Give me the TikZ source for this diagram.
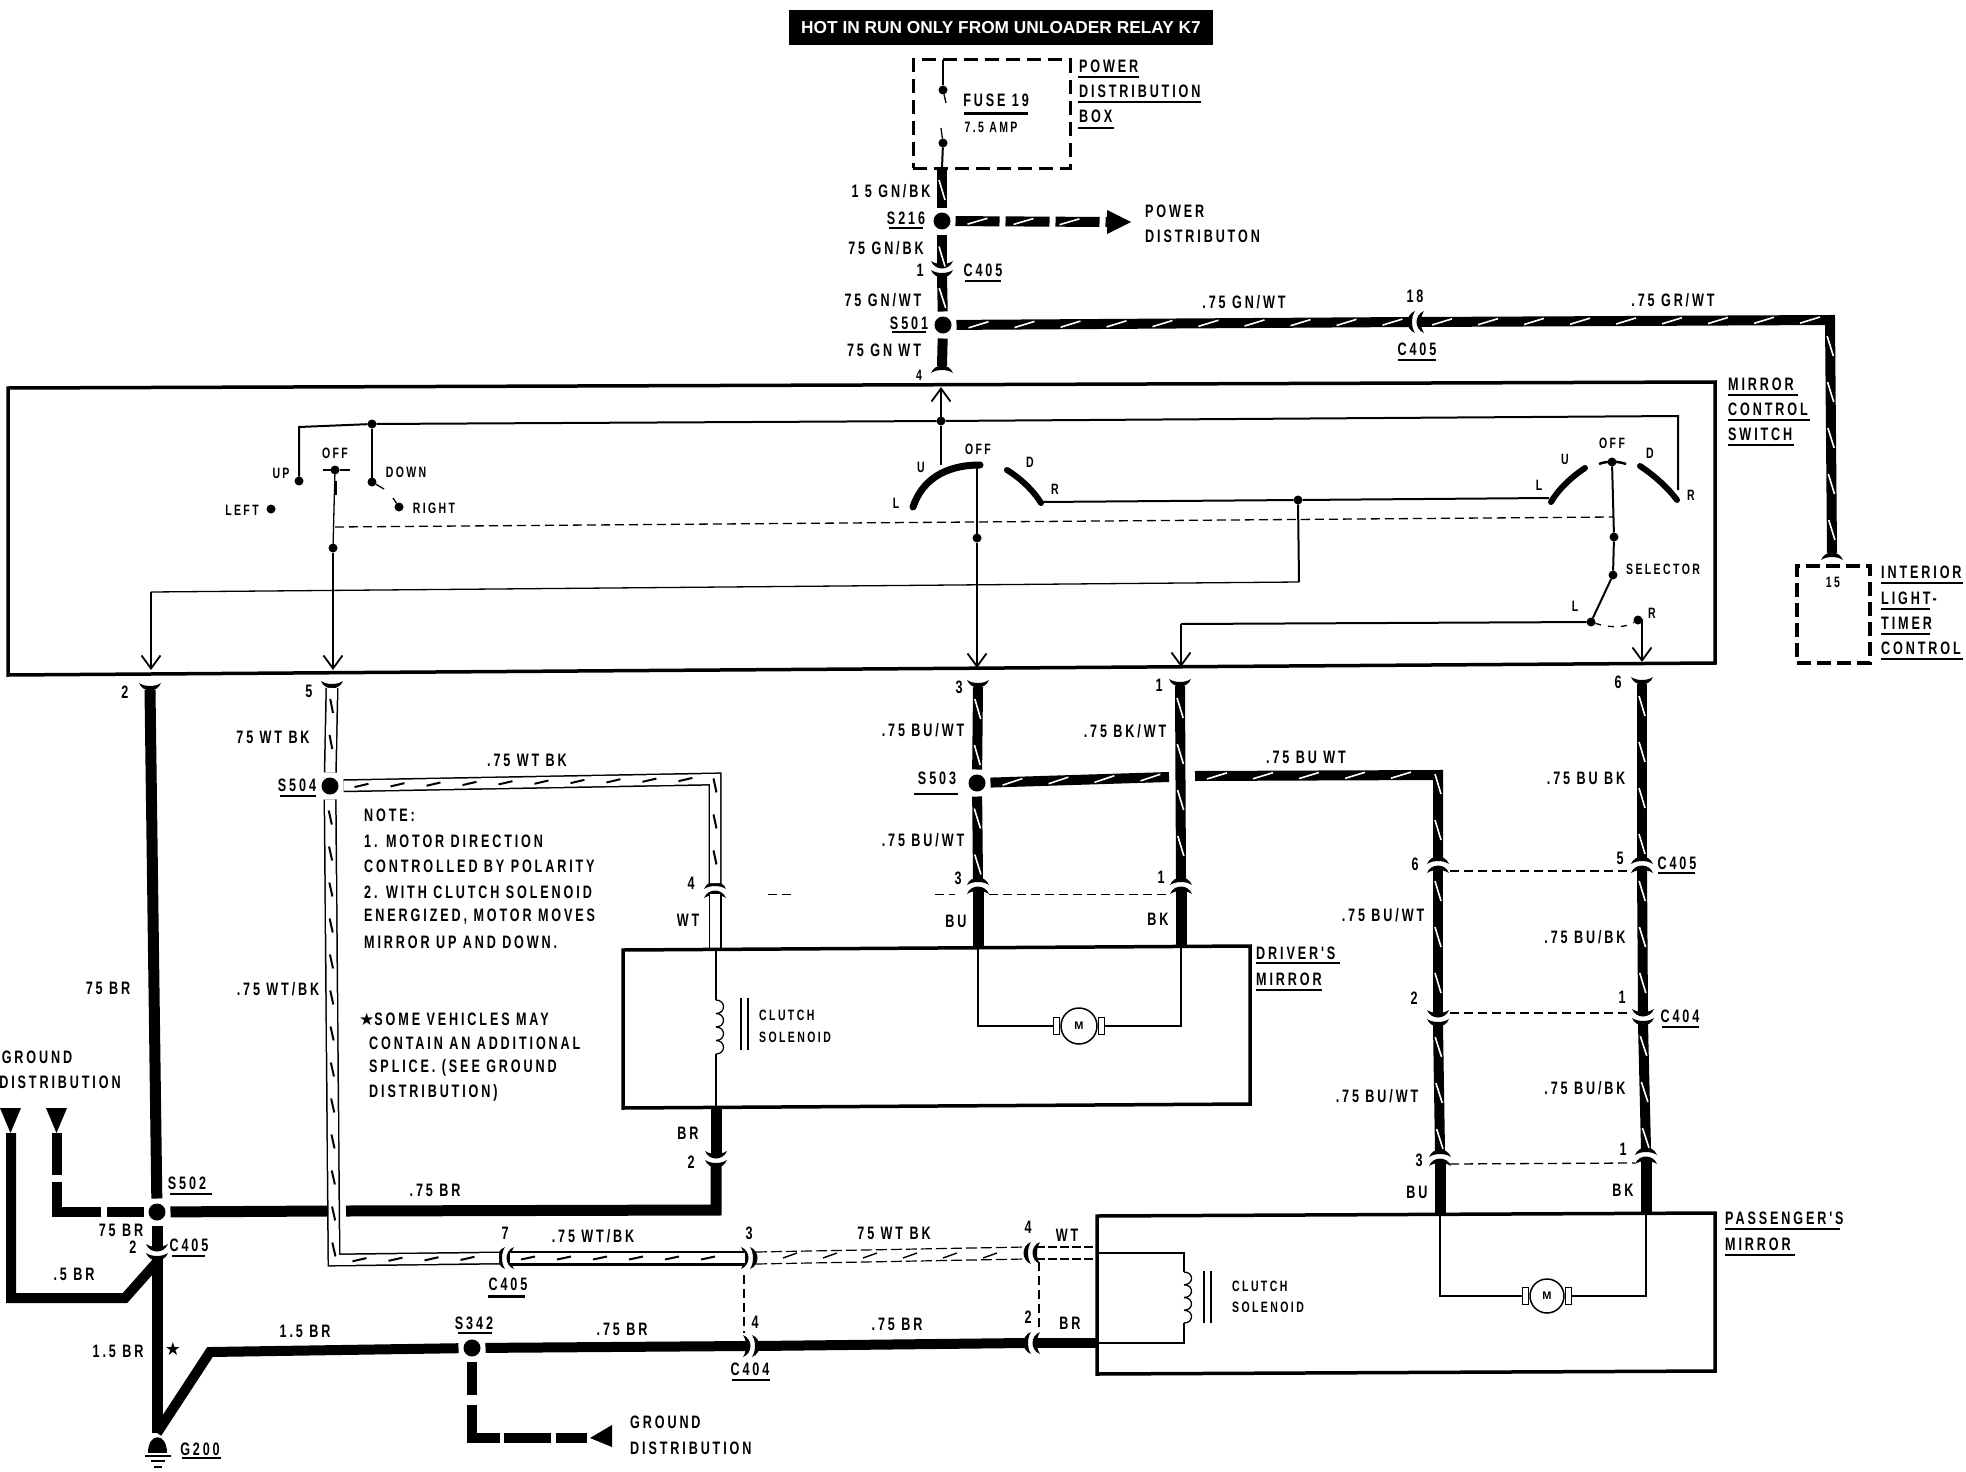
\documentclass[tikz,border=0pt]{standalone}
\usepackage{fontspec}
\usetikzlibrary{decorations.markings,arrows.meta}
\newfontfamily\labfont[FakeStretch=0.7,LetterSpace=16]{Liberation Sans Bold}
\newfontfamily\titlefont{Liberation Sans Bold}
\newfontfamily\symfont{DejaVu Sans}
\newcount\lc
\tikzset{
  txt/.style={inner sep=0pt,font=\fontsize{18}{20}\selectfont\labfont},
  stxt/.style={inner sep=0pt,font=\fontsize{15}{17}\selectfont\labfont},
  wire/.style={line width=10pt,line join=miter},
  hairline/.style={line width=1.3pt},
  midline/.style={line width=2pt},
  boxline/.style={line width=3.5pt,line join=miter},
  uline/.style={line width=2pt},
  dashline/.style={line width=1.3pt,dash pattern=on 9pt off 5pt},
  slashes/.style={postaction={decorate,decoration={markings,
     mark=between positions 22pt and -8pt step 46pt with {\draw[#1,line width=1.6pt,solid] (-10,3) -- (10,-3);}}}},
  bslashes/.style={postaction={decorate,decoration={markings,
     mark=between positions 18pt and -8pt step 36pt with {\draw[black,line width=2pt,solid] (-7,1.5) -- (7,-1.5);}}}},
  stripewire/.style={wire,slashes=white},
  whitewire/.style={line width=#1,line join=miter,postaction={draw,white,line width=10pt},bslashes},
  whitewire/.default=13pt,
  plainwhite/.style={line width=13pt,postaction={draw,white,line width=10pt}},
  splice/.style={circle,fill=black,minimum size=17pt,inner sep=0pt,outer sep=5pt},
  pin/.style={circle,fill=black,minimum size=9pt,inner sep=0pt,outer sep=0pt},
  sw/.style={hairline,-{Straight Barb[length=13pt,width=19pt,line width=1.8pt]}},
}
\newcommand\lb[3]{\global\advance\lc by 1 \node[txt,name=t\the\lc] at (#1,#2) {#3};}
\newcommand\lbs[3]{\global\advance\lc by 1 \node[stxt,name=t\the\lc] at (#1,#2) {#3};}
\newcommand\lbl[3]{\global\advance\lc by 1 \node[txt,anchor=west,name=t\the\lc] at (#1,#2) {#3};}
\newcommand\lbsl[3]{\global\advance\lc by 1 \node[stxt,anchor=west,name=t\the\lc] at (#1,#2) {#3};}
\newcommand\ulin[3]{\draw[uline] (#1,#3) -- (#2,#3);}
\newcommand\cres{(-11,-7) .. controls (-7,3) and (7,3) .. (11,-7) .. controls (5,-3) and (-5,-3) .. cycle}
% full connector: name, x, y, rotation
\newcommand\conn[4]{\begin{scope}[shift={(#2,#3)},rotate=#4]
  \fill[yshift=4pt] \cres; \fill[yshift=-5pt] \cres;
  \coordinate (#1-a) at (0,-7); \coordinate (#1-b) at (0,4);
\end{scope}}
% half connector
\newcommand\hconn[4]{\begin{scope}[shift={(#2,#3)},rotate=#4]
  \fill \cres; \coordinate (#1) at (0,0);
\end{scope}}
\newcommand\motor[4]{% name, x, y, r
  \node[circle,draw,line width=1.5pt,minimum size=#4,inner sep=0pt,font=\fontsize{11}{12}\selectfont\titlefont,fill=white] (#1) at (#2,#3) {M};
  \node[draw,line width=1.5pt,minimum width=6pt,minimum height=17pt,inner sep=0pt,anchor=east] (#1l) at (#1.west) {};
  \node[draw,line width=1.5pt,minimum width=6pt,minimum height=17pt,inner sep=0pt,anchor=west] (#1r) at (#1.east) {};
}
\newcommand\coil[3]{\begin{scope}[shift={(#1,#2)}]
  \foreach \a/\b in {0/1,1/2,2/3,3/4}{\draw[hairline] (0,#3*\a) .. controls (10,#3*\a) and (10,#3*\b) .. (0,#3*\b);}
\end{scope}}
\begin{document}
\begin{tikzpicture}[x=1pt,y=-1pt]
\useasboundingbox (0,0) rectangle (1966,1472);
\fill[white] (0,0) rectangle (1966,1472);
% title
\node[fill=black,text=white,minimum width=424pt,minimum height=35pt,inner sep=0pt,font=\fontsize{17.3}{19}\selectfont\titlefont] (title) at (1001,27.5) {HOT IN RUN ONLY FROM UNLOADER RELAY K7};
% fuse box
\node[draw,line width=3pt,dash pattern=on 14pt off 7pt,minimum width=157pt,minimum height=108pt,inner sep=0pt] (pdb) at (991.5,114) {};
\coordinate (fusetop) at (943,60); \coordinate (fusebot) at (942,168);
\node[pin] (f1) at (943,90) {}; \node[pin] (f2) at (943,143) {};
\draw[hairline] (fusetop) -- (f1); \draw[hairline] (f1) -- (946,103);
\draw[midline] (fusebot) -- (f2); \draw[hairline] (f2) -- (941,128);
\lb{996}{100}{FUSE 19}\draw[line width=3pt] (964,113) -- (1028,113);
\lbs{991}{127}{7.5 AMP}
\lbl{1079}{66}{POWER}\ulin{1078}{1139}{77}
\lbl{1079}{91}{DISTRIBUTION}\ulin{1078}{1201}{102}
\lbl{1079}{116}{BOX}\ulin{1078}{1114}{128}
% main feed
\node[splice] (S216) at (942,221) {};
\node[splice] (S501) at (943,325) {};
\conn{c1}{942}{272}{0}
\hconn{h4}{942}{366}{180}
\coordinate (pdist) at (1107,222); \coordinate (pdtip) at (1131,222);
\coordinate (pdu) at (1107,210); \coordinate (pdd) at (1107,234);
\draw[stripewire] (fusebot) -- (S216);
\draw[stripewire] (S216) -- (c1-a);
\draw[stripewire] (c1-b) -- (S501);
\draw[stripewire] (S501) -- (h4);
\draw[wire,dash pattern=on 44pt off 6pt,slashes=white] (S216) -- (pdist);
\fill (pdu) -- (pdtip) -- (pdd) -- cycle;
\lb{891}{191}{1 5 GN/BK}
\lb{906}{218}{S216}\ulin{889}{923}{228}
\lb{886}{248}{75 GN/BK}
\lb{920}{270}{1}
\lb{983}{270}{C405}\ulin{965}{1001}{281}
\lb{883}{300}{75 GN/WT}
\lb{909}{323}{S501}\ulin{892}{926}{332}
\lb{884}{350}{75 GN WT}
\lbs{919}{375}{4}
\lbl{1145}{211}{POWER}
\lbl{1145}{236}{DISTRIBUTON}
% S501 to interior light
\conn{c18}{1413}{322}{-90}
\node[draw,line width=3.5pt,dash pattern=on 14pt off 6pt,minimum width=73pt,minimum height=97pt,inner sep=0pt] (ilt) at (1833.5,614.5) {};
\hconn{hilt}{1832}{553}{180}
\coordinate (ilcorner) at (1830,320);
\draw[stripewire] (S501) -- (c18-b);
\draw[stripewire] (c18-a) -- (ilcorner) -- (hilt);
\lb{1244}{302}{.75 GN/WT}
\lb{1415}{296}{18}
\lb{1417}{349}{C405}\ulin{1398}{1436}{360}
\lb{1673}{300}{.75 GR/WT}
\lbs{1833}{582}{15}
\lbl{1881}{572}{INTERIOR}\ulin{1881}{1963}{583}
\lbl{1881}{598}{LIGHT-}\ulin{1881}{1930}{609}
\lbl{1881}{623}{TIMER}\ulin{1881}{1930}{634}
\lbl{1881}{648}{CONTROL}\ulin{1881}{1963}{659}
% switch box
\draw[boxline] (8,388) -- (8,675) -- (1715,663) -- (1715,382) -- cycle;
\lbl{1728}{384}{MIRROR}\ulin{1728}{1798}{395}
\lbl{1728}{409}{CONTROL}\ulin{1728}{1810}{420}
\lbl{1728}{434}{SWITCH}\ulin{1728}{1794}{445}
% left switch
\node[pin] (p1) at (372,424) {};
\node[pin] (pup) at (299,481) {};
\node[pin] (pdn) at (372,482) {};
\node[pin] (poff) at (335,470) {};
\node[pin] (pleft) at (271,509) {};
\node[pin] (pright) at (399,507) {};
\node[pin] (pc1) at (333,548) {};
\coordinate (busr) at (1678,416); \coordinate (busc) at (299,427); \coordinate (busend) at (1678,490);
\node[pin] (p2) at (941,421) {};
\draw[midline] (pup) -- (busc) -- (p1) -- (p2) -- (busr) -- (busend);
\draw[midline] (p1) -- (pdn); \draw[hairline] (pdn) -- (384,489); \draw[hairline] (393,498) -- (pright);
\draw[hairline] (323,470) -- (poff) -- (350,470);
\draw[hairline] (poff) -- (pc1);
\coordinate (arr5) at (333,670);
\draw[sw,line width=2pt] (pc1) -- (arr5);
\draw[line width=3pt] (335,481) -- (335,495);
\lbs{335}{453}{OFF}\lbs{281}{473}{UP}\lbs{406}{472}{DOWN}
\lbs{242}{510}{LEFT}\lbs{434}{508}{RIGHT}
% switch 2
\coordinate (r1s) at (941,465); \coordinate (r1c) at (977,466);
\draw[line width=7pt,line cap=round] (913,507) .. controls (922,480) and (945,465) .. (980,465);
\draw[line width=6pt,line cap=round] (1007,470) .. controls (1020,478) and (1033,490) .. (1041,503);
\draw[midline] (p2) -- (r1s);
\node[pin] (p3) at (977,538) {};
\draw[midline] (r1c) -- (p3);
\coordinate (arr3) at (977,668);
\draw[sw] (p3) -- (arr3);
\coordinate (arr4) at (941,387);
\draw[sw] (p2) -- (arr4);
\lbs{978}{449}{OFF}\lbs{921}{467}{U}\lbs{1030}{462}{D}\lbs{896}{503}{L}\lbs{1055}{489}{R}
% bridging wires
\node[pin] (p4) at (1298,500) {};
\coordinate (r1e) at (1041,502); \coordinate (r2s) at (1549,498);
\draw[midline] (r1e) -- (p4) -- (r2s);
\coordinate (bot1) at (1299,582); \coordinate (left2) at (151,592); \coordinate (arr2) at (151,670);
\draw[midline] (p4) -- (bot1);
\draw[hairline] (bot1) -- (left2);
\draw[sw] (left2) -- (arr2);
\coordinate (dashL) at (335,527); \coordinate (dashR) at (1613,517);
\draw[dashline] (dashL) -- (dashR);
% switch 3
\draw[line width=6pt,line cap=round] (1551,502) .. controls (1558,490) and (1570,478) .. (1585,468);
\draw[line width=2.5pt] (1599,464) .. controls (1606,461) and (1618,461) .. (1626,464);
\draw[line width=6pt,line cap=round] (1640,466) .. controls (1655,476) and (1668,488) .. (1677,500);
\node[pin] (s0) at (1612,462) {};
\node[pin] (s1) at (1614,537) {};
\node[pin] (s2) at (1613,575) {};
\node[pin] (s3) at (1591,622) {};
\node[pin] (s4) at (1638,620) {};
\draw[midline] (s0) -- (s1) -- (s2);
\draw[midline] (s2) -- (s3);
\draw[dashline,dash pattern=on 6pt off 7pt] (s3) .. controls (1610,628) and (1625,628) .. (s4);
\coordinate (arr6) at (1642,662); \coordinate (c1181) at (1181,624); \coordinate (arr1) at (1181,667);
\draw[sw] (s4) -| (arr6);
\draw[midline] (s3) -- (c1181);
\draw[sw] (c1181) -- (arr1);
\lbs{1612}{443}{OFF}\lbs{1565}{459}{U}\lbs{1650}{453}{D}\lbs{1539}{485}{L}\lbs{1691}{495}{R}
\lbs{1663}{569}{SELECTOR}\lbs{1575}{606}{L}\lbs{1652}{613}{R}
% wires below switch
\hconn{h2}{150}{690}{0}
\hconn{h5}{332}{688}{0}
\hconn{h3}{978}{687}{0}
\hconn{h1}{1180}{686}{0}
\hconn{h6}{1642}{684}{0}
\lb{125}{692}{2}\lb{309}{691}{5}\lb{959}{687}{3}\lb{1159}{685}{1}\lb{1618}{682}{6}
% S502 etc
\node[splice] (S502) at (157,1212) {};
\draw[wire,line width=11pt] (h2) -- (S502);
% S504 white wire
\node[splice] (S504) at (330,786) {};
\conn{c7}{503}{1258}{-90}
\conn{cc3}{752}{1258}{90}
\conn{cw4}{1029}{1253}{-90}
\conn{c4d}{715}{887}{180}
\coordinate (w5c) at (334,1260); \coordinate (s504c) at (715,779);
\draw[whitewire] (h5) -- (S504);
\draw[whitewire] (S504) -- (w5c) -- (c7-b);
\draw[whitewire] (S504) -- (s504c) -- (c4d-b);
\draw[whitewire=15pt] (c7-a) -- (cc3-a);
\coordinate (pbtop) at (715,948);
\draw[plainwhite] (c4d-a) -- (pbtop);
\draw[dash pattern=on 11pt off 4pt,line width=1.2pt] ([yshift=-6pt]cc3-b) -- ([yshift=-6pt]cw4-b);
\draw[dash pattern=on 11pt off 4pt,line width=1.2pt] ([yshift=6pt]cc3-b) -- ([yshift=6pt]cw4-b);
\foreach \x in {790,830,870,910,950,990}{\draw[line width=1.4pt] (\x-7,1258) -- (\x+7,1253);}
\coordinate (pw1) at (1097,1259); \coordinate (pw2) at (1097,1247);
\draw[dash pattern=on 9pt off 3pt,line width=1.4pt] ([yshift=-6pt]cw4-a) -- (pw1);
\draw[dash pattern=on 9pt off 3pt,line width=1.4pt] ([yshift=6pt]cw4-a) -- (pw2);
\lb{273}{737}{75 WT BK}
\lb{527}{760}{.75 WT BK}
\lb{297}{785}{S504}\ulin{280}{316}{796}
\lb{278}{989}{.75 WT/BK}
\lb{593}{1236}{.75 WT/BK}
\lb{505}{1233}{7}
\lb{749}{1233}{3}
\lb{508}{1284}{C405}\draw[line width=3pt] (488,1296) -- (525,1296);
\lb{894}{1233}{75 WT BK}
\lb{1028}{1227}{4}
\lb{1067}{1235}{WT}
% note
\lbl{364}{815}{NOTE:}
\lbl{364}{841}{1. MOTOR DIRECTION}
\lbl{364}{866}{CONTROLLED BY POLARITY}
\lbl{364}{892}{2. WITH CLUTCH SOLENOID}
\lbl{364}{917}{ENERGIZED, MOTOR MOVES}
\lbl{364}{942}{MIRROR UP AND DOWN.}
\lbl{359}{1019}{{\symfont\fontsize{17}{18}\selectfont ★}SOME VEHICLES MAY}
\lbl{369}{1043}{CONTAIN AN ADDITIONAL}
\lbl{369}{1068}{SPLICE. (SEE GROUND}
\lbl{369}{1093}{DISTRIBUTION)}
% driver's mirror box
\draw[boxline] (623,950) -- (1250,946) -- (1250,1104) -- (623,1108) -- cycle;
\lbl{1256}{953}{DRIVER'S}\ulin{1256}{1340}{963}
\lbl{1256}{979}{MIRROR}\ulin{1256}{1322}{990}
\conn{c3d}{978}{883}{180}
\conn{c1d}{1181}{883}{180}
\coordinate (bub) at (978,948); \coordinate (bkb) at (1181,946);
\draw[wire,line width=11pt] (c3d-a) -- (bub);
\draw[wire,line width=11pt] (c1d-a) -- (bkb);
\lb{691}{883}{4}\lb{688}{920}{WT}
\lb{958}{878}{3}\lb{956}{921}{BU}
\lb{1161}{877}{1}\lb{1158}{919}{BK}
\draw[dashline,line width=1pt] (768,894) -- (793,894);
\draw[dashline,line width=1pt] (935,894) -- (955,894);
\draw[dashline,line width=1pt] (989,894) -- (1168,894);
\motor{md}{1079}{1026}{36pt}
\draw[hairline] (bub) |- (mdl);
\draw[hairline] (bkb) |- (mdr);
\coordinate (dt) at (716,950); \coordinate (db) at (716,1108);
\coil{716}{1000}{13.5}
\draw[hairline] (dt) -- (716,1000); \draw[hairline] (716,1054) -- (db);
\draw[hairline] (741,998) -- (741,1050); \draw[line width=1.6pt] (748,998) -- (748,1050);
\lbsl{759}{1015}{CLUTCH}\lbsl{759}{1037}{SOLENOID}
% S503 group
\node[splice] (S503) at (977,783) {};
\coordinate (e1) at (1169,777); \coordinate (e2) at (1195,776); \coordinate (e3) at (1438,775);
\conn{c6}{1438}{862}{180}
\conn{c5}{1642}{862}{180}
\conn{c2r}{1438}{1021}{0}
\conn{c1r}{1643}{1020}{0}
\conn{c3p}{1440}{1155}{180}
\conn{c1p}{1646}{1153}{180}
\draw[stripewire] (h3) -- (S503);
\draw[stripewire] (S503) -- (c3d-b);
\draw[stripewire] (h1) -- (c1d-b);
\draw[stripewire] (S503) -- (e1);
\draw[stripewire] (e2) -- (e3) -- (c6-b);
\draw[stripewire] (c6-a) -- (c2r-a);
\draw[stripewire] (c2r-b) -- (c3p-b);
\draw[stripewire] (h6) -- (c5-b);
\draw[stripewire] (c5-a) -- (c1r-a);
\draw[stripewire] (c1r-b) -- (c1p-b);
\coordinate (bup) at (1440,1215); \coordinate (bkp) at (1646,1213);
\draw[wire,line width=11pt] (c3p-a) -- (bup);
\draw[wire,line width=11pt] (c1p-a) -- (bkp);
\draw[dashline] (1450,871) -- (1632,871);
\draw[dashline] (1450,1013) -- (1632,1013);
\draw[dashline] (1450,1164) -- (1635,1163);
\lb{923}{730}{.75 BU/WT}\lb{1125}{731}{.75 BK/WT}
\lb{1306}{757}{.75 BU WT}\lb{1586}{778}{.75 BU BK}
\lb{937}{778}{S503}\ulin{914}{958}{794}
\lb{923}{840}{.75 BU/WT}
\lb{1415}{864}{6}\lb{1620}{858}{5}
\lb{1677}{863}{C405}\ulin{1658}{1695}{873}
\lb{1383}{915}{.75 BU/WT}\lb{1585}{937}{.75 BU/BK}
\lb{1414}{998}{2}\lb{1622}{997}{1}
\lb{1680}{1016}{C404}\ulin{1662}{1699}{1027}
\lb{1377}{1096}{.75 BU/WT}\lb{1585}{1088}{.75 BU/BK}
\lb{1419}{1160}{3}\lb{1623}{1149}{1}
\lb{1417}{1192}{BU}\lb{1623}{1190}{BK}
% passenger's mirror box
\draw[boxline] (1097,1216) -- (1715,1213) -- (1715,1371) -- (1097,1374) -- cycle;
\lbl{1725}{1218}{PASSENGER'S}\ulin{1725}{1840}{1229}
\lbl{1725}{1244}{MIRROR}\ulin{1725}{1795}{1255}
\motor{mp}{1547}{1296}{34pt}
\draw[hairline] (bup) |- (mpl);
\draw[hairline] (bkp) |- (mpr);
\coil{1184}{1272}{12.75}
\coordinate (pc1) at (1097,1253); \coordinate (pc2) at (1097,1343);
\draw[hairline] (pc1) -- (1184,1253) -- (1184,1272);
\draw[hairline] (1184,1323) -- (1184,1343) -- (pc2);
\draw[line width=1.6pt] (1204,1271) -- (1204,1323); \draw[hairline] (1211,1271) -- (1211,1323);
\lbsl{1232}{1286}{CLUTCH}
\lbsl{1232}{1307}{SOLENOID}
% ground network
\conn{c2}{157}{1255}{0}
\coordinate (c2join) at (157,1262); \coordinate (gnd) at (157,1433);
\node[splice] (S342) at (472,1348) {};
\conn{c404}{754}{1346}{90}
\conn{c2x}{1029}{1343}{-90}
\conn{c2br}{716}{1162}{0}
\coordinate (drvb) at (716,1108);
\coordinate (brc) at (716,1210); \coordinate (brg1) at (327,1211); \coordinate (brg2) at (346,1211);
\draw[wire,line width=11pt] (S502) -- (c2-a);
\draw[wire,line width=11pt] (c2-b) -- (gnd);
\draw[wire] (gnd) -- (210,1352) -- (S342);
\draw[wire,line width=11pt] (S502) -- (brg1);
\draw[wire,line width=11pt] (brg2) -- (brc) -- (c2br-b);
\draw[wire,line width=11pt] (drvb) -- (c2br-a);
\draw[wire] (S342) -- (c404-a);
\draw[wire] (c404-b) -- (c2x-b);
\coordinate (pbr) at (1097,1343);
\draw[wire] (c2x-a) -- (pbr);
\coordinate (tri1) at (11,1133); \coordinate (tri2) at (57,1133);
\fill (tri1) ++(-11,-25) -- ++(21,0) -- ++(-10.5,25) -- cycle;
\fill (tri2) ++(-11,-25) -- ++(21,0) -- ++(-10.5,25) -- cycle;
\draw[wire] (tri1) -- (11,1298) -- (125,1298) -- (c2join);
\draw[wire,dash pattern=on 42pt off 7pt on 74pt off 6pt on 100pt off 1pt] (tri2) -- (57,1212) -- (S502);
\coordinate (tri3) at (587,1438);
\draw[wire,dash pattern=on 33pt off 10pt on 61pt off 4pt on 47pt off 5pt on 40pt off 1pt] (S342) -- (472,1438) -- (tri3);
\fill (tri3) ++(3,0) -- (612,1425) -- (612,1447) -- cycle;
\draw[dashline] (744,1275) -- (744,1333);
\draw[dashline] (1039,1262) -- (1039,1330);
\lb{37}{1057}{GROUND}\lb{60}{1082}{DISTRIBUTION}
\lb{187}{1183}{S502}\ulin{170}{212}{1194}
\lb{435}{1190}{.75 BR}\lb{688}{1133}{BR}\lb{691}{1162}{2}
\lb{121}{1230}{75 BR}\lb{133}{1247}{2}
\lb{189}{1245}{C405}\ulin{172}{205}{1256}
\lb{74}{1274}{.5 BR}\lb{118}{1351}{1.5 BR}
\lb{108}{988}{75 BR}
\node[inner sep=0pt,font=\fontsize{18}{19}\selectfont\symfont] (star) at (173,1349) {★};
\lb{305}{1331}{1.5 BR}\lb{474}{1323}{S342}\ulin{458}{492}{1333}
\lb{622}{1329}{.75 BR}\lb{755}{1322}{4}
\lb{750}{1369}{C404}\ulin{732}{770}{1380}
\lb{897}{1324}{.75 BR}\lb{1028}{1317}{2}\lb{1070}{1323}{BR}
\lbl{630}{1422}{GROUND}\lbl{630}{1448}{DISTRIBUTION}
% ground symbol
\fill (148,1453) .. controls (148,1432) and (167,1432) .. (167,1453) -- cycle;
\draw[line width=2pt] (145,1456) -- (171,1456);
\draw[line width=2pt] (151,1461) -- (165,1461);
\draw[line width=2pt] (154,1467) -- (162,1467);
\lb{200}{1449}{G200}\ulin{182}{221}{1458}
\end{tikzpicture}
\end{document}
